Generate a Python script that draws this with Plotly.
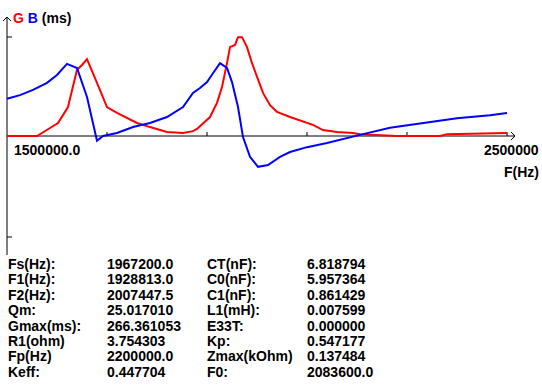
import plotly.graph_objects as go

# ---- data ----
g_freq = [1500000, 1560000, 1586000, 1602000, 1622000, 1630000, 1640000, 1650000, 1660000,
          1680000, 1700000, 1720000, 1740000, 1760000, 1786000, 1820000, 1852000, 1872000,
          1880000, 1906000, 1920000, 1930000, 1940000, 1946000, 1956000, 1962000, 1970000,
          1980000, 1990000, 2002000, 2012000, 2026000, 2040000, 2066000, 2092000, 2112000,
          2132000, 2160000, 2192000, 2206000, 2280000, 2366000, 2380000, 2480000, 2500000]
g_ms = [0, 0, 21.5, 35, 78, 124, 178, 191, 207,
        143, 78, 62, 48, 35, 24, 11, 8, 13,
        19, 51, 89, 132, 196, 239, 245, 266, 266,
        239, 196, 151, 116, 83, 65, 51, 38, 30,
        16, 11, 8, 5, 0, 0, 5, 8, 8]

b_freq = [1500000, 1526000, 1552000, 1580000, 1600000, 1620000, 1640000, 1660000, 1680000,
          1692000, 1720000, 1752000, 1786000, 1820000, 1852000, 1872000, 1886000, 1900000,
          1912000, 1926000, 1940000, 1950000, 1962000, 1972000, 1986000, 2002000, 2022000,
          2046000, 2066000, 2100000, 2140000, 2166000, 2206000, 2266000, 2332000, 2400000,
          2466000, 2500000]
b_ms = [100, 110, 124, 143, 164, 194, 183, 105, -13,
        0, 8, 24, 35, 51, 78, 116, 129, 145,
        169, 196, 183, 145, 78, -3, -56, -83, -78,
        -56, -43, -30, -19, -11, 3, 22, 35, 48,
        56, 62]

param_labels_1 = ["Fs(Hz):", "F1(Hz):", "F2(Hz):", "Qm:", "Gmax(ms):", "R1(ohm)", "Fp(Hz)", "Keff:"]
param_values_1 = ["1967200.0", "1928813.0", "2007447.5", "25.017010", "266.361053", "3.754303", "2200000.0", "0.447704"]
param_labels_2 = ["CT(nF):", "C0(nF):", "C1(nF):", "L1(mH):", "E33T:", "Kp:", "Zmax(kOhm)", "F0:"]
param_values_2 = ["6.818794", "5.957364", "0.861429", "0.007599", "0.000000", "0.547177", "0.137484", "2083600.0"]

x_min, x_max = 1500000, 2500000
x_ticks = [1700000, 1900000, 2100000, 2300000, 2500000]
gmax = 266.36

# ---- geometry helpers (pixel layout of the 542x388 canvas) ----
W, H = 542, 388
HZ_PER_PX = 2000.0
X0_PX = 7
Y0_PX = 136
MS_PER_PX = gmax / 99.0

def fx(px):
    return x_min + (px - X0_PX) * HZ_PER_PX

def fy(py):
    return (Y0_PX - py) * MS_PER_PX

FONT = "Liberation Sans"
FS = 14

fig = go.Figure()
fig.add_trace(go.Scatter(x=g_freq, y=g_ms, mode="lines",
                         line=dict(color="#ff0000", width=2), hoverinfo="skip"))
fig.add_trace(go.Scatter(x=b_freq, y=b_ms, mode="lines",
                         line=dict(color="#0000ff", width=2), hoverinfo="skip"))

shapes = []
ln = dict(color="black", width=1)
# x axis with arrow
shapes.append(dict(type="line", x0=fx(7), x1=fx(515), y0=0, y1=0, line=ln, layer="below"))
shapes.append(dict(type="path", path=f"M {fx(511)},{fy(132)} L {fx(515)},{fy(136)} L {fx(511)},{fy(140)}",
                   line=ln, layer="below"))
# y axis with arrow
shapes.append(dict(type="line", x0=x_min, x1=x_min, y0=fy(17), y1=fy(255), line=ln, layer="below"))
shapes.append(dict(type="path", path=f"M {fx(3)},{fy(21)} L {fx(7)},{fy(17)} L {fx(11)},{fy(21)}",
                   line=ln, layer="below"))
# y ticks
for v in (gmax, -gmax * 101 / 99):
    shapes.append(dict(type="line", x0=fx(7), x1=fx(12), y0=v, y1=v, line=ln, layer="below"))
# x ticks
for t in x_ticks:
    shapes.append(dict(type="line", x0=t, x1=t, y0=0, y1=fy(132), line=ln, layer="below"))

ann = []
def txt(s, px, py, anchor="left", color="black"):
    ann.append(dict(text=s, x=px / W, y=1 - py / H, xref="paper", yref="paper",
                    xanchor=anchor, yanchor="middle", showarrow=False,
                    font=dict(family=FONT, size=FS, color=color, weight="bold")))

txt("<span style='color:#ff0000'>G</span> <span style='color:#0000ff'>B</span> (ms)", 11, 18)
txt(f"{x_min:.1f}", 12, 150)
txt(f"{x_max:d}", 541, 150, anchor="right")
txt("F(Hz)", 541, 172, anchor="right")

for i in range(8):
    py = 264 + 15.4 * i
    txt(param_labels_1[i], 6, py)
    txt(param_values_1[i], 105, py)
    txt(param_labels_2[i], 205, py)
    txt(param_values_2[i], 305, py)

fig.update_layout(
    width=W, height=H,
    margin=dict(l=0, r=0, t=0, b=0),
    paper_bgcolor="white", plot_bgcolor="white",
    showlegend=False,
    xaxis=dict(visible=False, range=[fx(0), fx(W)], fixedrange=True),
    yaxis=dict(visible=False, range=[fy(H), fy(0)], fixedrange=True),
    shapes=shapes, annotations=ann,
)

fig.write_html("out.html", config={"displayModeBar": False},
               post_script="document.body.style.margin='0';document.body.style.overflow='hidden';")
